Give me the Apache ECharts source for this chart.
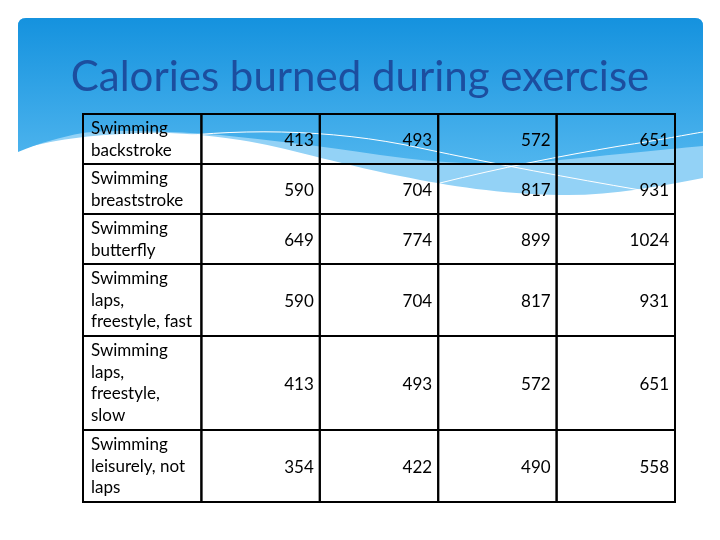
<!DOCTYPE html>
<html>
<head>
<meta charset="utf-8">
<script src="https://cdn.jsdelivr.net/npm/echarts@6/dist/echarts.min.js"></script>
<style>html,body{margin:0;padding:0;background:#fff}#c{width:720px;height:540px}</style>
</head>
<body>
<div id="c"></div>
<script>
// ---- data ----
const titleText = 'Calories burned during exercise';
const activities = [
  'Swimming\nbackstroke',
  'Swimming\nbreaststroke',
  'Swimming\nbutterfly',
  'Swimming\nlaps,\nfreestyle, fast',
  'Swimming\nlaps,\nfreestyle,\nslow',
  'Swimming\nleisurely, not\nlaps'
];
const col1 = [413, 590, 649, 590, 413, 354];
const col2 = [493, 704, 774, 704, 493, 422];
const col3 = [572, 817, 899, 817, 572, 490];
const col4 = [651, 931, 1024, 931, 651, 558];

// ---- build table cells ----
const valueCols = [col1, col2, col3, col4];
const PAD = 0.27; // extra row height in line units
const rowStart = [];
let acc = 0;
activities.forEach(function (a) {
  rowStart.push(acc);
  acc += a.split('\n').length + PAD;
});
const totalUnits = acc;
const cells = [];
activities.forEach(function (a, r) {
  const y0 = rowStart[r];
  const y1 = y0 + a.split('\n').length + PAD;
  cells.push({ value: [0, y0, y1], text: a });
  valueCols.forEach(function (col, ci) {
    cells.push({ value: [ci + 1, y0, y1], text: String(col[r]) });
  });
});

const FONT = 'Lato';
const headerGradient = {
  type: 'linear', x: 0, y: 0, x2: 0, y2: 1,
  colorStops: [{ offset: 0, color: '#1592de' }, { offset: 1, color: '#4fb5ee' }]
};
const chart = echarts.init(document.getElementById('c'), null, { renderer: 'canvas' });
chart.setOption({
  backgroundColor: '#ffffff',
  animation: false,
  title: {
    text: titleText,
    left: 'center',
    top: 51,
    textStyle: { color: '#1c4e9f', fontSize: 42, fontWeight: 'normal', fontFamily: FONT }
  },
  grid: { left: 83, right: 45, top: 114, bottom: 38 },
  xAxis: { type: 'value', min: 0, max: 5, show: false },
  yAxis: { type: 'value', min: 0, max: totalUnits, inverse: true, show: false },
  series: [{
    type: 'custom',
    z: 0,
    silent: true,
    clip: false,
    data: [[0, 0]],
    renderItem: function () {
      return {
        type: 'group',
        children: [
          {
            type: 'path',
            shape: { pathData: 'M18,150 L18,26 Q18,18 26,18 L695,18 Q703,18 703,26 L703,178 C 660,186 610,196 560,195 C 500,194 450,186 400,176 C 330,162 290,148 240,140 C 200,134 170,132 140,133 C 90,135 50,140 18,150 Z' },
            style: { fill: '#93d2f6' }
          },
          {
            type: 'path',
            shape: { pathData: 'M18,152 L18,26 Q18,18 26,18 L695,18 Q703,18 703,26 L703,146 C 660,150 600,156 540,162 C 480,166 430,162 380,155 C 320,146 270,140 220,135 C 160,130 100,130 83,133 C 60,137 40,143 18,152 Z' },
            style: { fill: headerGradient }
          },
          {
            type: 'path',
            shape: { pathData: 'M150,140 C 230,128 330,128 420,148 C 500,165 570,178 640,190' },
            style: { fill: null, stroke: '#ffffff', lineWidth: 1 }
          },
          {
            type: 'path',
            shape: { pathData: 'M440,183 C 500,168 560,156 620,146 C 660,140 690,134 703,132' },
            style: { fill: null, stroke: '#ffffff', lineWidth: 1 }
          }
        ]
      };
    }
  }, {
    type: 'custom',
    z: 5,
    data: cells,
    renderItem: function (params, api) {
      const c = api.value(0), y0 = api.value(1), y1 = api.value(2);
      const p0 = api.coord([c, y0]);
      const p1 = api.coord([c + 1, y1]);
      const txt = cells[params.dataIndex].text;
      const children = [{
        type: 'rect',
        shape: { x: p0[0], y: p0[1], width: p1[0] - p0[0], height: p1[1] - p0[1] },
        style: { fill: 'rgba(0,0,0,0)', stroke: '#000', lineWidth: 2 }
      }];
      if (c === 0) {
        children.push({
          type: 'text',
          style: { x: p0[0] + 8, y: p0[1] + 4, text: txt, fill: '#000', font: '17px ' + FONT,
                   align: 'left', verticalAlign: 'top', lineHeight: 21.5 }
        });
      } else {
        children.push({
          type: 'text',
          style: { x: p1[0] - 6, y: (p0[1] + p1[1]) / 2 + 2, text: txt, fill: '#000', font: '17px ' + FONT,
                   align: 'right', verticalAlign: 'middle' }
        });
      }
      return { type: 'group', children: children };
    }
  }]
});
</script>
</body>
</html>
